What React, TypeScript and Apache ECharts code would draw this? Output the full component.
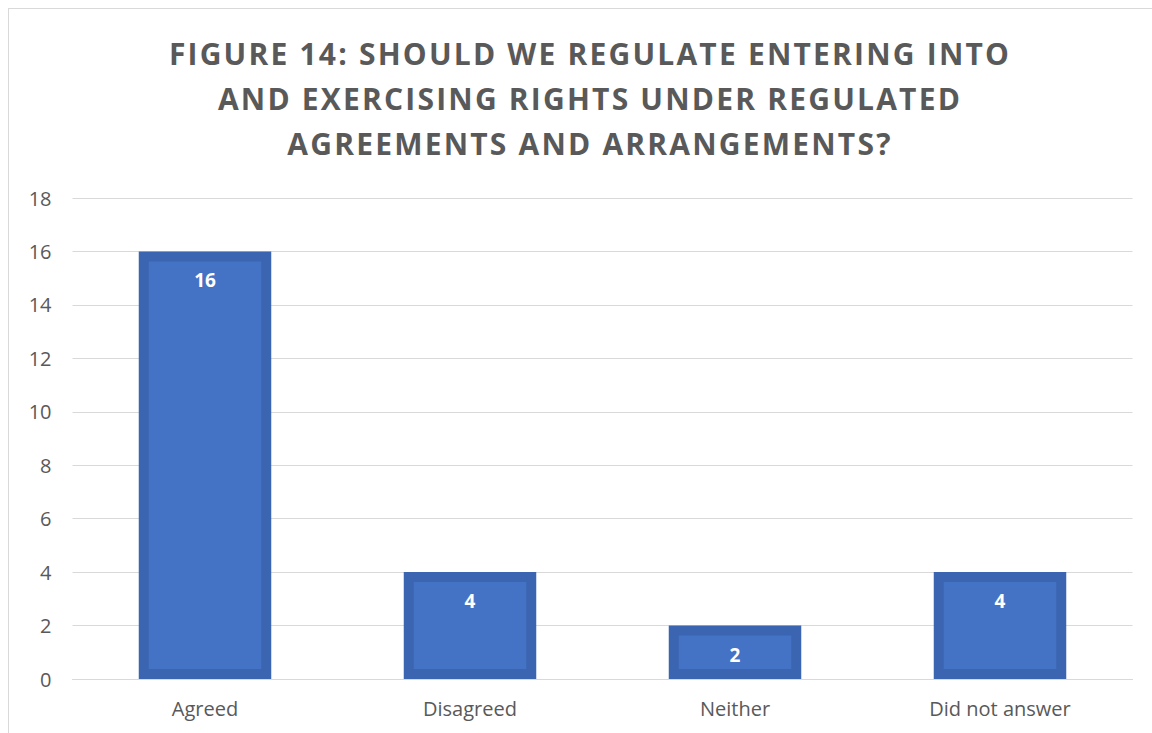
import React, { useEffect, useRef } from "react";
import * as echarts from "echarts";

const titleLines = [
  "FIGURE 14: SHOULD WE REGULATE ENTERING INTO",
  "AND EXERCISING RIGHTS UNDER REGULATED",
  "AGREEMENTS AND ARRANGEMENTS?",
];
const categories = ["Agreed", "Disagreed", "Neither", "Did not answer"];
const values = [16, 4, 2, 4];
const yTicks = { min: 0, max: 18, interval: 2 };

const FONT = '"Open Sans", "Noto Sans", sans-serif';

export default function App() {
  const ref = useRef<HTMLDivElement>(null);
  useEffect(() => {
    if (!ref.current) return;
    const chart = echarts.init(ref.current, null, { renderer: "svg" });
    const border = 10;
    chart.setOption({
      animation: false,
      backgroundColor: "#ffffff",
      title: {
        text: titleLines.join("\n"),
        left: 576,
        top: 17,
        textAlign: "center",
        textStyle: {
          fontFamily: FONT,
          fontWeight: "bold",
          fontSize: 30,
          lineHeight: 45,
          color: "#595959",
        },
      },
      grid: { left: 63.5, right: 26.5, top: 189, bottom: 54, containLabel: false },
      xAxis: {
        type: "category",
        data: categories,
        axisLine: { show: true, lineStyle: { color: "#d9d9d9", width: 1 } },
        axisTick: { show: false },
        axisLabel: { fontFamily: FONT, fontSize: 20, color: "#595959", margin: 19 },
      },
      yAxis: {
        type: "value",
        min: yTicks.min,
        max: yTicks.max,
        interval: yTicks.interval,
        axisLine: { show: false },
        axisTick: { show: false },
        splitLine: { lineStyle: { color: "#d9d9d9", width: 1 } },
        axisLabel: { fontFamily: FONT, fontSize: 20, color: "#595959", margin: 21 },
      },
      series: [
        {
          type: "custom",
          data: values.map((v, i) => [i, v]),
          encode: { x: 0, y: 1 },
          renderItem: (params: any, api: any) => {
            const xi = api.value(0);
            const v = api.value(1);
            const top = api.coord([xi, v]);
            const base = api.coord([xi, 0]);
            const bw = api.size([1, 0])[0] * 0.5;
            return {
              type: "group",
              children: [
                {
                  type: "rect",
                  shape: {
                    x: top[0] - bw / 2 + border / 2,
                    y: top[1] + border / 2,
                    width: bw - border,
                    height: base[1] - top[1] - border,
                  },
                  style: { fill: "#4472C4", stroke: "#3B65B0", lineWidth: border },
                },
                {
                  type: "text",
                  style: {
                    text: String(v),
                    x: top[0],
                    y: top[1] + 29,
                    align: "center",
                    verticalAlign: "middle",
                    fill: "#ffffff",
                    font: `bold 19px ${FONT}`,
                  },
                },
              ],
            };
          },
        },
      ],
    });
    const applySpacing = () => {
      if (!ref.current) return;
      ref.current.querySelectorAll("text").forEach((t) => {
        const s = (t.textContent || "").trim();
        if (titleLines.includes(s)) {
          t.setAttribute("letter-spacing", "2.2");
        }
      });
    };
    applySpacing();
    chart.on("finished", applySpacing);
    return () => chart.dispose();
  }, []);
  return (
    <div
      style={{
        position: "fixed",
        left: 8,
        top: 8,
        width: 1152,
        height: 733,
        boxSizing: "border-box",
        borderLeft: "1px solid #d9d9d9",
        borderTop: "1px solid #d9d9d9",
        overflow: "hidden",
        background: "#ffffff",
      }}
    >
      <div ref={ref} style={{ width: 1150, height: 724 }} />
    </div>
  );
}
